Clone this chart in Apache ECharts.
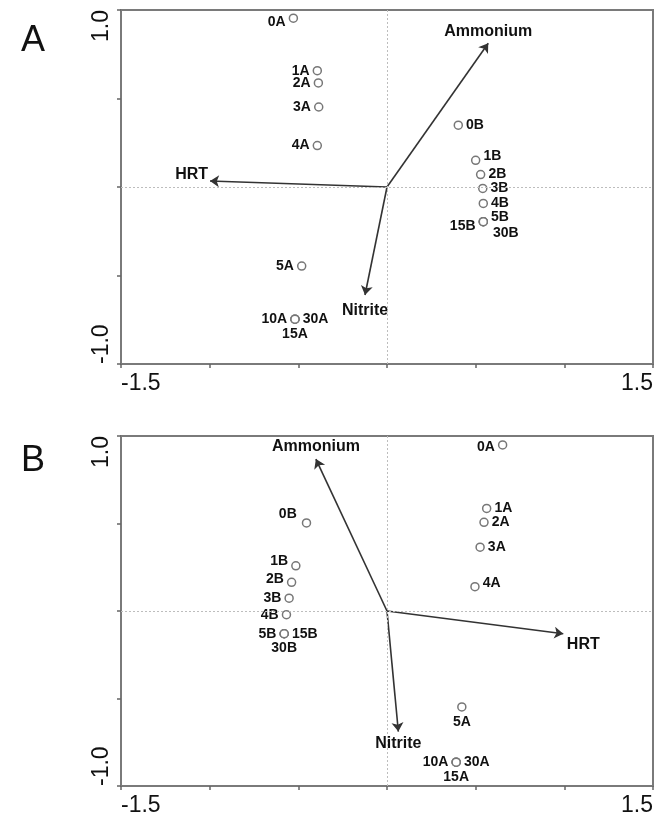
<!DOCTYPE html>
<html>
<head>
    <meta charset="utf-8">
    <title>RDA biplot</title>
    <style>
        html, body { margin: 0; padding: 0; background: #fff; }
    </style>
</head>
<body>
    <div id="main" style="width: 665px; height: 817px;"></div>
    <script src="https://cdn.jsdelivr.net/npm/echarts@6/dist/echarts.min.js"></script>
    <script type="text/javascript">
        // sample names (10A/15A/30A and 5B/15B/30B sit on the same spot)
        var ptNames = ['0A', '1A', '2A', '3A', '4A', '5A', '10A', '15A', '30A',
                       '0B', '1B', '2B', '3B', '4B', '5B', '15B', '30B'];

        // panel A scores
        var ptAx = [-0.528, -0.393, -0.387, -0.385, -0.393, -0.481, -0.519, -0.519, -0.519,
                    0.402, 0.500, 0.528, 0.540, 0.543, 0.543, 0.543, 0.543];
        var ptAy = [0.954, 0.657, 0.588, 0.452, 0.234, -0.447, -0.747, -0.747, -0.747,
                    0.349, 0.151, 0.070, -0.008, -0.093, -0.196, -0.196, -0.196];

        // panel B scores
        var ptBx = [0.652, 0.562, 0.547, 0.525, 0.496, 0.422, 0.390, 0.390, 0.390,
                    -0.454, -0.514, -0.538, -0.552, -0.567, -0.580, -0.580, -0.580];
        var ptBy = [0.949, 0.586, 0.507, 0.365, 0.139, -0.548, -0.864, -0.864, -0.864,
                    0.503, 0.258, 0.164, 0.073, -0.021, -0.130, -0.130, -0.130];

        // environmental vectors
        var envNames = ['Ammonium', 'HRT', 'Nitrite'];
        var envAx = [0.571, -0.998, -0.124];
        var envAy = [0.812, 0.034, -0.610];
        var envBx = [-0.401, 0.994, 0.064];
        var envBy = [0.868, -0.130, -0.689];

        // axis tick labels
        var xTickLabels = ['-1.5', '1.5'];
        var yTickLabels = ['-1.0', '1.0'];

        // label placement: [position, dx, dy]
        var labA = {
            '0A': ['left', 0, 4], '1A': ['left', 0, 0], '2A': ['left', 0, 0], '3A': ['left', 0, 0],
            '4A': ['left', 0, 0], '5A': ['left', 0, 0], '10A': ['left', 0, 0], '15A': ['bottom', 0, 0],
            '30A': ['right', 0, 0], '0B': ['right', 0, 0], '1B': ['right', 0, -4], '2B': ['right', 0, 0],
            '3B': ['right', 0, 0], '4B': ['right', 0, 0], '5B': ['right', 0, -5], '15B': ['left', 0, 4],
            '30B': ['right', 2, 11]
        };
        var labB = {
            '0A': ['left', 0, 2], '1A': ['right', 0, 0], '2A': ['right', 0, 0], '3A': ['right', 0, 0],
            '4A': ['right', 0, -4], '5A': ['bottom', 0, 0], '10A': ['left', 0, 0], '15A': ['bottom', 0, 0],
            '30A': ['right', 0, 0], '0B': ['left', -2, -9], '1B': ['left', 0, -5], '2B': ['left', 0, -3],
            '3B': ['left', 0, 0], '4B': ['left', 0, 0], '5B': ['left', 0, 0], '15B': ['right', 0, 0],
            '30B': ['bottom', 0, 0]
        };
        var envLabA = [['top', 0, 0, 4], ['left', 0, -6, 2], ['bottom', 0, 0, 8]];
        var envLabB = [['top', 0, 0, 5], ['bottom', 20, 0, 3], ['bottom', 0, 0, 4]];

        var FONT = 'Liberation Sans, Arial, sans-serif';

        function pointData(xs, ys, lab) {
            return ptNames.map(function (n, i) {
                return {
                    name: n,
                    value: [xs[i], ys[i]],
                    label: { position: lab[n][0] }
                };
            });
        }

        function envData(xs, ys, lab) {
            return envNames.map(function (n, i) {
                return {
                    name: n,
                    value: [xs[i], ys[i]],
                    label: { position: lab[i][0], distance: lab[i][3] }
                };
            });
        }

        function arrowData(xs, ys) {
            return envNames.map(function (n, i) {
                return { name: n, coords: [[0, 0], [xs[i], ys[i]]] };
            });
        }

        function xAxisFor(idx) {
            return {
                type: 'value', gridIndex: idx, min: -1.5, max: 1.5, interval: 0.5,
                axisLine: { onZero: false, lineStyle: { color: '#7a7a7a', width: 2 } },
                axisTick: { show: true, length: 4, lineStyle: { color: '#666', width: 1.5 } },
                splitLine: { show: false },
                axisLabel: {
                    color: '#111', fontSize: 23, fontFamily: FONT, margin: 8,
                    showMinLabel: true, showMaxLabel: true,
                    alignMinLabel: 'left', alignMaxLabel: 'right',
                    formatter: function (v) {
                        if (Math.abs(v + 1.5) < 1e-6) return xTickLabels[0];
                        if (Math.abs(v - 1.5) < 1e-6) return xTickLabels[1];
                        return '';
                    }
                }
            };
        }

        function yAxisFor(idx) {
            return {
                type: 'value', gridIndex: idx, min: -1, max: 1, interval: 0.5,
                axisLine: { onZero: false, lineStyle: { color: '#7a7a7a', width: 2 } },
                axisTick: { show: true, length: 4, lineStyle: { color: '#666', width: 1.5 } },
                splitLine: { show: false },
                axisLabel: {
                    color: '#111', fontSize: 23, fontFamily: FONT, margin: 8, rotate: 90,
                    showMinLabel: true, showMaxLabel: true,
                    alignMinLabel: 'left', alignMaxLabel: 'right',
                    formatter: function (v) {
                        if (Math.abs(v + 1) < 1e-6) return yTickLabels[0];
                        if (Math.abs(v - 1) < 1e-6) return yTickLabels[1];
                        return '';
                    }
                }
            };
        }

        function panelSeries(idx, xs, ys, lab, ex, ey, elab) {
            return [
                {
                    type: 'scatter', xAxisIndex: idx, yAxisIndex: idx,
                    symbol: 'circle', symbolSize: 8,
                    itemStyle: { color: '#fff', borderColor: '#777', borderWidth: 1.5, opacity: 1 },
                    label: {
                        show: true, formatter: '{b}', color: '#111',
                        fontSize: 14, fontWeight: 'bold', fontFamily: FONT, distance: 3
                    },
                    labelLayout: function (p) {
                        var s = lab[ptNames[p.dataIndex]];
                        return { dx: s[1], dy: s[2], hideOverlap: false };
                    },
                    data: pointData(xs, ys, lab),
                    markLine: {
                        silent: true, symbol: ['none', 'none'], animation: false,
                        label: { show: false },
                        lineStyle: { color: '#bdbdbd', type: [2, 2], width: 1 },
                        data: [{ xAxis: 0 }, { yAxis: 0 }]
                    },
                    z: 3
                },
                {
                    type: 'lines', coordinateSystem: 'cartesian2d', xAxisIndex: idx, yAxisIndex: idx,
                    symbol: ['none', 'arrow'], symbolSize: [4, 9],
                    lineStyle: { color: '#333', width: 1.6, opacity: 1 },
                    data: arrowData(ex, ey),
                    z: 2
                },
                {
                    type: 'scatter', xAxisIndex: idx, yAxisIndex: idx,
                    symbolSize: 0,
                    itemStyle: { opacity: 1 },
                    label: {
                        show: true, formatter: '{b}', color: '#111',
                        fontSize: 16, fontWeight: 'bold', fontFamily: FONT
                    },
                    labelLayout: function (p) {
                        var s = elab[p.dataIndex];
                        return { dx: s[1], dy: s[2], hideOverlap: false };
                    },
                    data: envData(ex, ey, elab),
                    z: 4
                }
            ];
        }

        var chartDom = document.getElementById('main');
        var myChart = echarts.init(chartDom);

        var option = {
            animation: false,
            backgroundColor: '#fff',
            title: [
                { text: 'A', left: 16, top: 18, textStyle: { fontSize: 36, fontWeight: 'normal', color: '#111', fontFamily: FONT } },
                { text: 'B', left: 16, top: 438, textStyle: { fontSize: 36, fontWeight: 'normal', color: '#111', fontFamily: FONT } }
            ],
            grid: [
                { left: 121, top: 10, width: 532, height: 354, show: true, borderColor: '#7a7a7a', borderWidth: 2, backgroundColor: 'transparent' },
                { left: 121, top: 436, width: 532, height: 354, show: true, borderColor: '#7a7a7a', borderWidth: 2, backgroundColor: 'transparent' }
            ],
            xAxis: [xAxisFor(0), xAxisFor(1)],
            yAxis: [yAxisFor(0), yAxisFor(1)],
            series: panelSeries(0, ptAx, ptAy, labA, envAx, envAy, envLabA)
                .concat(panelSeries(1, ptBx, ptBy, labB, envBx, envBy, envLabB))
        };

        myChart.setOption(option);
    </script>
</body>
</html>
